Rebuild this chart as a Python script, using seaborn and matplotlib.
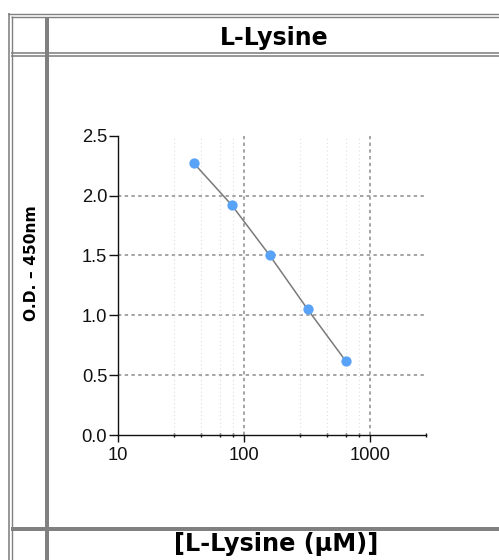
import numpy as np
import pandas as pd
import seaborn as sns
import matplotlib
matplotlib.use("Agg")
import matplotlib.pyplot as plt
from matplotlib.lines import Line2D
from matplotlib.ticker import FixedLocator, NullFormatter
import matplotlib.transforms as mtransforms

# ---- data ----
concentration = [40, 80, 160, 320, 640]
od_450 = [2.27, 1.92, 1.50, 1.05, 0.62]
x_major_ticks = [10, 100, 1000]
x_major_labels = ["10", "100", "1000"]
x_minor_ticks = [28, 46, 64, 82, 280, 460, 640, 820, 2800]
y_ticks = [0.0, 0.5, 1.0, 1.5, 2.0, 2.5]
y_tick_labels = ["0.0", "0.5", "1.0", "1.5", "2.0", "2.5"]
title_text = "L-Lysine"
xlabel_text = "[L-Lysine (\u00b5M)]"
ylabel_text = "O.D. \u2013 450nm"

sns.set_theme(style="white")
plt.rcParams['font.family'] = ['DejaVu Sans']

W, H = 499, 560
DPI = 100
fig = plt.figure(figsize=(W / DPI, H / DPI), dpi=DPI)
fig.patch.set_facecolor("white")

def fx(px):
    return px / W

def fy(py):
    return 1 - py / H

# axes placement (pixels)
ax_l, ax_r, ax_t, ax_b = 118, 426.3, 135.7, 435.0
ax = fig.add_axes([fx(ax_l), fy(ax_b), fx(ax_r - ax_l), (ax_b - ax_t) / H])
ax.set_facecolor("white")

df = pd.DataFrame({"conc": concentration, "od": od_450})
sns.lineplot(data=df, x="conc", y="od", ax=ax, color="#7a7a7a", linewidth=1.1,
             marker="o", markersize=7.4, markerfacecolor="#58a2f8",
             markeredgecolor="#58a2f8", markeredgewidth=0, zorder=5)

ax.set_xscale("log")
ax.set_xlim(10, 2800)
ax.set_ylim(0, 2.5)

ax.set_xticks(x_major_ticks)
ax.set_xticklabels(x_major_labels)
ax.xaxis.set_minor_locator(FixedLocator(x_minor_ticks))
ax.xaxis.set_minor_formatter(NullFormatter())
ax.set_yticks(y_ticks)
ax.set_yticklabels(y_tick_labels)

for lab in ax.get_xticklabels() + ax.get_yticklabels():
    lab.set_fontfamily("Liberation Sans")
    lab.set_fontsize(13.2)
    lab.set_color("#111111")

# nudge the "10" label to the right as in the reference
first = ax.get_xticklabels()[0]
first.set_transform(first.get_transform() +
                    mtransforms.ScaledTranslation(3.5 / DPI, 0, fig.dpi_scale_trans))

ax.tick_params(axis="x", which="major", direction="out", length=5, width=1.0,
               color="#111111", pad=3.5, bottom=True)
ax.tick_params(axis="x", which="minor", direction="inout", length=3.5, width=1.0,
               color="#111111", bottom=True)
ax.tick_params(axis="y", which="major", direction="out", length=6.3, width=1.0,
               color="#111111", pad=1.5, left=True)

for s in ["top", "right"]:
    ax.spines[s].set_visible(False)
for s in ["left", "bottom"]:
    ax.spines[s].set_color("#111111")
    ax.spines[s].set_linewidth(1.0)

ax.set_xlabel("")
ax.set_ylabel("")
ax.grid(False)

# grid lines
for yv in y_ticks[1:-1]:
    ax.axhline(yv, color="#8c8c8c", linewidth=1.1, linestyle=(0, (2.2, 2.2)), zorder=1)
for xv in x_major_ticks[1:]:
    ax.axvline(xv, color="#8c8c8c", linewidth=1.1, linestyle=(0, (2.2, 2.2)), zorder=1)
for xv in x_minor_ticks:
    ax.axvline(xv, color="#dedede", linewidth=0.8, linestyle=(0, (1, 2.5)), zorder=1)

# ---- table-like frame ----
gray = "#808080"

def hline(y, x0, x1, lw):
    fig.add_artist(Line2D([fx(x0), fx(x1)], [fy(y), fy(y)], color=gray,
                          linewidth=lw * 0.72, solid_capstyle="butt"))

def vline(x, y0, y1, lw):
    fig.add_artist(Line2D([fx(x), fx(x)], [fy(y0), fy(y1)], color=gray,
                          linewidth=lw * 0.72, solid_capstyle="butt"))

# outer double borders
vline(9.2, 13.3, 560, 1.6)
vline(12.0, 16.0, 560, 1.4)
hline(14.0, 8.4, 499, 1.4)
hline(16.6, 11.3, 499, 1.4)
# inner thick vertical column divider
vline(47.0, 16.6, 560, 4.0)
# double line under title row
hline(53.2, 11.3, 499, 1.6)
hline(55.9, 11.3, 499, 1.6)
# thick line above x-label row
hline(529.0, 11.3, 499, 4.0)

# ---- text ----
fig.text(fx(274), fy(45.5), title_text, ha="center", va="baseline",
         fontsize=17, fontweight="bold", family="DejaVu Sans", color="#000000")
fig.text(fx(276), fy(551), xlabel_text, ha="center", va="baseline",
         fontsize=17.3, fontweight="bold", family="DejaVu Sans", color="#000000")
fig.text(fx(31.5), fy(263), ylabel_text, ha="center", va="center", rotation=90,
         fontsize=11.2, fontweight="bold", family="DejaVu Sans", color="#000000")

fig.savefig("out.png", dpi=DPI, facecolor="white")
